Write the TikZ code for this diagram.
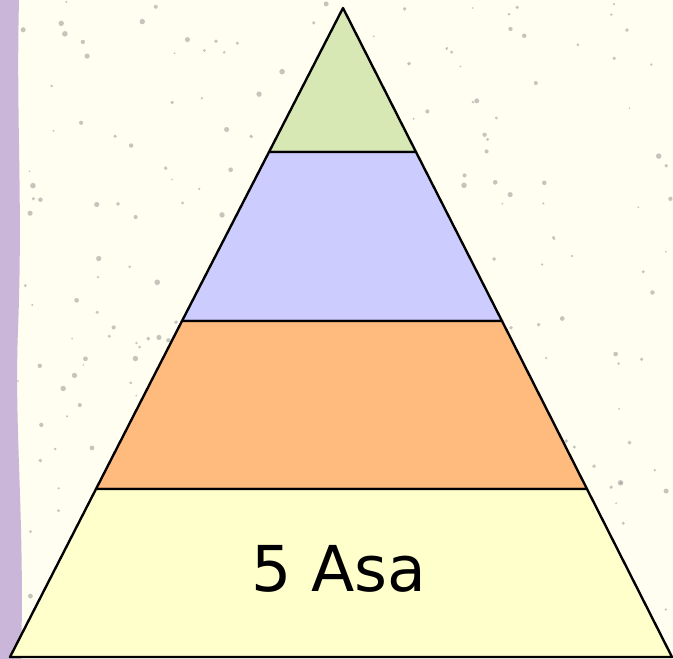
\documentclass[tikz,border=0pt]{standalone}
\usepackage{fontspec}
\setmainfont{DejaVu Sans}
\usetikzlibrary{calc}
\definecolor{paper}{HTML}{FFFEF0}
\definecolor{edgestrip}{HTML}{C9B6D9}
\definecolor{tiergreen}{HTML}{D7E8B5}
\definecolor{tierblue}{HTML}{CCCCFF}
\definecolor{tierorange}{HTML}{FFBB7E}
\definecolor{tieryellow}{HTML}{FFFFCC}
\tikzset{
  tier/.style={draw=black, line width=1.35pt, line join=round},
  speck/.style={fill=gray, opacity=0.45},
  tierlabel/.style={font=\fontsize{36}{42}\selectfont, text=black}
}

\begin{document}
\begin{tikzpicture}[x=0.02cm, y=-0.02cm]
  \useasboundingbox (0,0) rectangle (673,659);
  % paper and side strip
  \fill[paper] (0,0) rectangle (673,659);
  \pgfmathsetseed{11}
  \foreach \i in {1,...,300}
    \fill[speck] (rnd*673, rnd*659) circle[radius=0.5pt+rnd*1.1pt];
  \fill[edgestrip] (0,0) -- (19,0) .. controls (16,120) and (23,200) .. (18,330)
    .. controls (14,430) and (25,520) .. (21,659) -- (0,659) -- cycle;

  % pyramid levels
  \coordinate (apex) at (343,8);
  \coordinate (l1) at (269,152); \coordinate (r1) at (416,152);
  \coordinate (l2) at (182,321); \coordinate (r2) at (502,321);
  \coordinate (l3) at (96,489);  \coordinate (r3) at (587,489);
  \coordinate (l4) at (10,657);  \coordinate (r4) at (672,657);

  \filldraw[tier, fill=tiergreen]  (apex) -- (r1) -- (l1) -- cycle;
  \filldraw[tier, fill=tierblue]   (l1) -- (r1) -- (r2) -- (l2) -- cycle;
  \filldraw[tier, fill=tierorange] (l2) -- (r2) -- (r3) -- (l3) -- cycle;
  \filldraw[tier, fill=tieryellow] (l3) -- (r3) -- (r4) -- (l4) -- cycle;

  \node[tierlabel] (base) at (339,569) {5 Asa};
\end{tikzpicture}
\end{document}
